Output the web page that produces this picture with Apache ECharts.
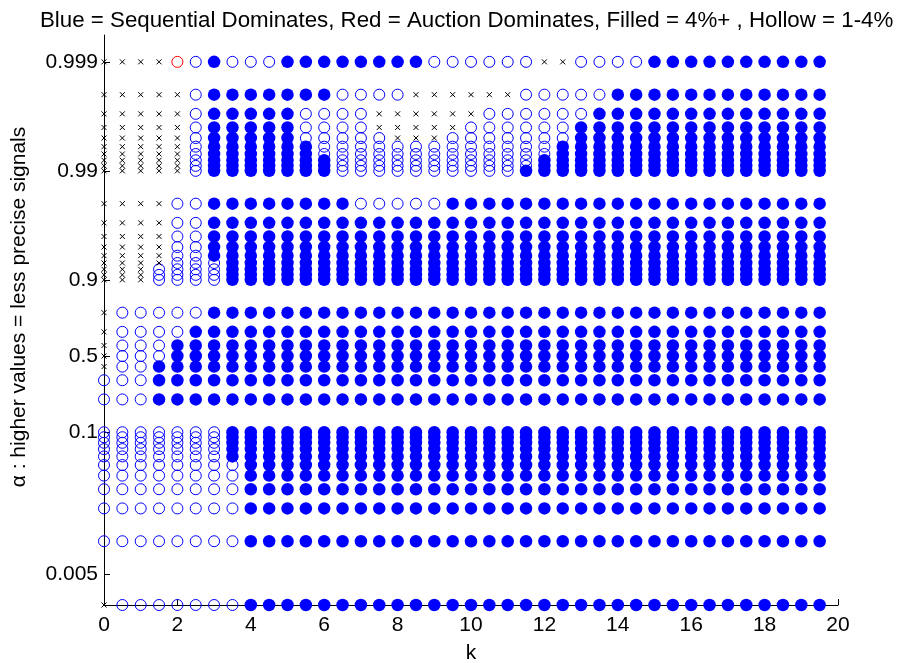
<!DOCTYPE html>
<html>
<head>
<meta charset="utf-8">
<script src="https://cdn.jsdelivr.net/npm/echarts@6/dist/echarts.min.js"></script>
<style>
  html, body { margin: 0; padding: 0; background: #fff; }
  #chart { width: 899px; height: 663px; }
</style>
</head>
<body>
<div id="chart"></div>
<script>
// k grid (x)
const kValues = [0, 0.5, 1, 1.5, 2, 2.5, 3, 3.5, 4, 4.5, 5, 5.5, 6, 6.5, 7, 7.5, 8, 8.5, 9, 9.5,
  10, 10.5, 11, 11.5, 12, 12.5, 13, 13.5, 14, 14.5, 15, 15.5, 16, 16.5, 17, 17.5, 18, 18.5, 19, 19.5]

// alpha rows (y), top to bottom
const alphaRows = [0.999, 0.998, 0.997, 0.996, 0.995, 0.994, 0.993, 0.992, 0.991, 0.99,
  0.98, 0.97, 0.96, 0.95, 0.94, 0.93, 0.92, 0.91, 0.9,
  0.8, 0.7, 0.6, 0.5, 0.4, 0.3, 0.2,
  0.1, 0.09, 0.08, 0.07, 0.06, 0.05, 0.04, 0.03, 0.02, 0.01, 0.0026]

// one code per k: F = blue filled (4%+), o = blue hollow (1-4%), r = red hollow, x = neither
const cellCodes = [
  'xxxxroFoooFFFFFFFFooooooxxooooFFFFFFFFFF',
  'xxxxxoFFFFFFFooooxxxxxxoooooFFFFFFFFFFFF',
  'xxxxxoFFFFFooooxxxxxxooooooFFFFFFFFFFFFF',
  'xxxxxoFFFFFooooxxxxxooooooFFFFFFFFFFFFFF',
  'xxxxxoFFFFFoooooxxxoooooooFFFFFFFFFFFFFF',
  'xxxxxoFFFFFFoooooooooooooFFFFFFFFFFFFFFF',
  'xxxxxoFFFFFFoooooooooooooFFFFFFFFFFFFFFF',
  'xxxxxoFFFFFFFoooooooooooFFFFFFFFFFFFFFFF',
  'xxxxxoFFFFFFFoooooooooooFFFFFFFFFFFFFFFF',
  'xxxxxoFFFFFFFooooooooooFFFFFFFFFFFFFFFFF',
  'xxxxooFFFFFFFFoooooFFFFFFFFFFFFFFFFFFFFF',
  'xxxxooFFFFFFFFFFFFFFFFFFFFFFFFFFFFFFFFFF',
  'xxxxooFFFFFFFFFFFFFFFFFFFFFFFFFFFFFFFFFF',
  'xxxxooFFFFFFFFFFFFFFFFFFFFFFFFFFFFFFFFFF',
  'xxxxooFFFFFFFFFFFFFFFFFFFFFFFFFFFFFFFFFF',
  'xxxxoooFFFFFFFFFFFFFFFFFFFFFFFFFFFFFFFFF',
  'xxxooooFFFFFFFFFFFFFFFFFFFFFFFFFFFFFFFFF',
  'xxxooooFFFFFFFFFFFFFFFFFFFFFFFFFFFFFFFFF',
  'xxxooooFFFFFFFFFFFFFFFFFFFFFFFFFFFFFFFFF',
  'xoooooFFFFFFFFFFFFFFFFFFFFFFFFFFFFFFFFFF',
  'xooooFFFFFFFFFFFFFFFFFFFFFFFFFFFFFFFFFFF',
  'xoooFFFFFFFFFFFFFFFFFFFFFFFFFFFFFFFFFFFF',
  'xoooFFFFFFFFFFFFFFFFFFFFFFFFFFFFFFFFFFFF',
  'xooFFFFFFFFFFFFFFFFFFFFFFFFFFFFFFFFFFFFF',
  'oooFFFFFFFFFFFFFFFFFFFFFFFFFFFFFFFFFFFFF',
  'oooFFFFFFFFFFFFFFFFFFFFFFFFFFFFFFFFFFFFF',
  'oooooooFFFFFFFFFFFFFFFFFFFFFFFFFFFFFFFFF',
  'oooooooFFFFFFFFFFFFFFFFFFFFFFFFFFFFFFFFF',
  'oooooooFFFFFFFFFFFFFFFFFFFFFFFFFFFFFFFFF',
  'oooooooFFFFFFFFFFFFFFFFFFFFFFFFFFFFFFFFF',
  'oooooooFFFFFFFFFFFFFFFFFFFFFFFFFFFFFFFFF',
  'ooooooooFFFFFFFFFFFFFFFFFFFFFFFFFFFFFFFF',
  'ooooooooFFFFFFFFFFFFFFFFFFFFFFFFFFFFFFFF',
  'ooooooooFFFFFFFFFFFFFFFFFFFFFFFFFFFFFFFF',
  'ooooooooFFFFFFFFFFFFFFFFFFFFFFFFFFFFFFFF',
  'ooooooooFFFFFFFFFFFFFFFFFFFFFFFFFFFFFFFF',
  'xoooooooFFFFFFFFFFFFFFFFFFFFFFFFFFFFFFFF'
]

const yTickAlphas = [0.999, 0.99, 0.9, 0.5, 0.1, 0.005]
const yTickLabels = ['0.999', '0.99', '0.9', '0.5', '0.1', '0.005']

// y scale: log of distance to 0 / 1, folded at 0.5
const yScale = a => a >= 0.5 ? -Math.log10(2 * (1 - a)) : Math.log10(2 * a)

const pts = { F: [], o: [], r: [], x: [] }
alphaRows.forEach((a, i) => {
  kValues.forEach((k, j) => {
    const c = cellCodes[i][j]
    if (pts[c]) pts[c].push([k, yScale(a)])
  })
})

const yTickVals = yTickAlphas.map(yScale)
const yMin = yScale(alphaRows[alphaRows.length - 1])
const yMax = yMin + 570 / 109

const font = 'Liberation Sans, Arial, Helvetica, sans-serif'
const chart = echarts.init(document.getElementById('chart'))
chart.setOption({
  animation: false,
  backgroundColor: '#fff',
  title: {
    text: 'Blue = Sequential Dominates, Red = Auction Dominates, Filled = 4%+ , Hollow = 1-4%',
    left: 35,
    top: 5,
    textStyle: { fontFamily: font, fontSize: 22.3, fontWeight: 'normal', color: '#000' }
  },
  grid: { left: 104, right: 61, top: 35, bottom: 58, outerBoundsMode: 'none' },
  xAxis: {
    type: 'value', min: 0, max: 20, interval: 2,
    name: 'k', nameLocation: 'middle', nameGap: 38,
    nameTextStyle: { fontFamily: font, fontSize: 21, color: '#000' },
    axisLine: { show: true, onZero: false, lineStyle: { color: '#000', width: 1 } },
    axisTick: { show: true, inside: true, length: 6, lineStyle: { color: '#000' } },
    axisLabel: { fontFamily: font, fontSize: 21, color: '#000', margin: 10 },
    splitLine: { show: false }
  },
  yAxis: {
    type: 'value', min: yMin, max: yMax,
    name: 'α : higher values = less precise signals', nameLocation: 'middle', nameGap: 74,
    nameTextStyle: { fontFamily: font, fontSize: 21, color: '#000', padding: [0, 0, 0, 26] },
    axisLine: { show: true, onZero: false, lineStyle: { color: '#000', width: 1 } },
    axisTick: { show: true, inside: true, length: 6, customValues: yTickVals, lineStyle: { color: '#000' } },
    axisLabel: {
      fontFamily: font, fontSize: 21, color: '#000', margin: 6,
      customValues: yTickVals,
      formatter: v => {
        const i = yTickVals.findIndex(t => Math.abs(t - v) < 1e-6)
        return i >= 0 ? yTickLabels[i] : ''
      }
    },
    splitLine: { show: false }
  },
  series: [
    {
      type: 'scatter', name: 'hollow', data: pts.o, symbol: 'circle', symbolSize: 11,
      itemStyle: { color: 'rgba(0,0,0,0)', borderColor: '#0000ff', borderWidth: 1, opacity: 1 }
    },
    {
      type: 'scatter', name: 'filled', data: pts.F, symbol: 'circle', symbolSize: 12.5,
      itemStyle: { color: '#0000ff', borderWidth: 0, opacity: 1 }
    },
    {
      type: 'scatter', name: 'red', data: pts.r, symbol: 'circle', symbolSize: 11,
      itemStyle: { color: 'rgba(0,0,0,0)', borderColor: '#ff0000', borderWidth: 1, opacity: 1 }
    },
    {
      type: 'scatter', name: 'none', data: pts.x, symbol: 'path://M0,0L10,10M10,0L0,10', symbolSize: 5,
      itemStyle: { color: 'rgba(0,0,0,0)', borderColor: '#000', borderWidth: 1, opacity: 1 }
    }
  ]
})
</script>
</body>
</html>
